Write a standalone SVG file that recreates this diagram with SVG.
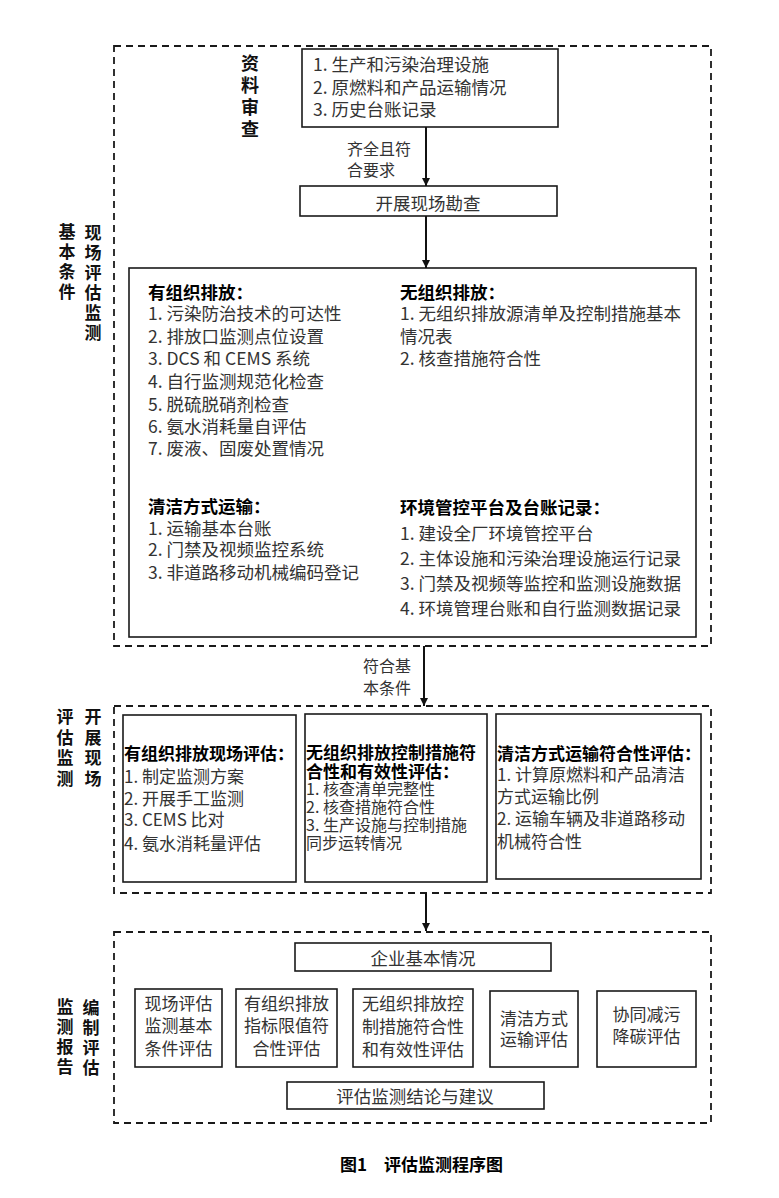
<svg xmlns="http://www.w3.org/2000/svg" width="779" height="1198" viewBox="0 0 779 1198">
<style>
.dash{fill:none;stroke:#1a1a1a;stroke-width:1.8;stroke-dasharray:7 5}
.box{fill:#fff;stroke:#1a1a1a;stroke-width:1.6}
.t{font-family:"Noto Sans CJK SC","Liberation Sans",sans-serif;font-size:17px;fill:#333;dominant-baseline:central}
.big{font-size:17.5px}
.h{font-weight:bold;fill:#000}
.lab{font-size:17px;fill:#111;font-weight:bold;writing-mode:vertical-rl;letter-spacing:3px}
.c{text-anchor:middle}
.sm{font-size:16px}
.conn{stroke:#111;stroke-width:2;fill:none}
</style>
<defs>
<marker id="arr" markerUnits="userSpaceOnUse" markerWidth="8" markerHeight="8" refX="8" refY="4" orient="auto">
<path d="M0,0 L8,4 L0,8 z" fill="#111"/>
</marker>
</defs>
<rect width="779" height="1198" fill="#fff"/>

<g id="section1">
<rect class="dash" x="114" y="46" width="597" height="600"/>
<text class="t lab" x="67" y="223.5">基本条件</text>
<text class="t lab" x="93" y="224.5">现场评估监测</text>
</g>

<g id="material-review">
<text class="t lab" x="250" y="54" style="font-size:18px;letter-spacing:4px">资料审查</text>
<rect class="box" x="302" y="49" width="256" height="78"/>
<text class="t big" x="313" y="63">1. 生产和污染治理设施<tspan x="313" y="86">2. 原燃料和产品运输情况</tspan><tspan x="313" y="108">3. 历史台账记录</tspan></text>
</g>

<g id="site-survey">
<rect class="box" x="300" y="186" width="257" height="30"/>
<text class="t big c" x="428" y="202">开展现场勘查</text>
</g>

<g id="basic-conditions">
<rect class="box" x="129" y="268" width="567" height="369"/>
<text class="t big" x="148" y="291"><tspan class="h">有组织排放：</tspan><tspan x="148" y="312">1. 污染防治技术的可达性</tspan><tspan x="148" y="335">2. 排放口监测点位设置</tspan><tspan x="148" y="357">3. DCS 和 CEMS 系统</tspan><tspan x="148" y="380">4. 自行监测规范化检查</tspan><tspan x="148" y="403">5. 脱硫脱硝剂检查</tspan><tspan x="148" y="425">6. 氨水消耗量自评估</tspan><tspan x="148" y="447">7. 废液、固废处置情况</tspan></text>
<text class="t big" x="400" y="291"><tspan class="h">无组织排放：</tspan><tspan x="400" y="312">1. 无组织排放源清单及控制措施基本</tspan><tspan x="400" y="335">情况表</tspan><tspan x="400" y="357">2. 核查措施符合性</tspan></text>
<text class="t big" x="148" y="505"><tspan class="h">清洁方式运输：</tspan><tspan x="148" y="527">1. 运输基本台账</tspan><tspan x="148" y="548">2. 门禁及视频监控系统</tspan><tspan x="148" y="571">3. 非道路移动机械编码登记</tspan></text>
<text class="t big" x="400" y="506"><tspan class="h">环境管控平台及台账记录：</tspan><tspan x="400" y="532">1. 建设全厂环境管控平台</tspan><tspan x="400" y="557">2. 主体设施和污染治理设施运行记录</tspan><tspan x="400" y="582">3. 门禁及视频等监控和监测设施数据</tspan><tspan x="400" y="607">4. 环境管理台账和自行监测数据记录</tspan></text>
</g>

<g id="section2">
<rect class="dash" x="114" y="706" width="597" height="187"/>
<text class="t lab" x="65" y="708.5" style="letter-spacing:3.5px">评估监测</text>
<text class="t lab" x="93" y="708.5" style="letter-spacing:3.5px">开展现场</text>
</g>

<g id="organized-assessment">
<rect class="box" x="123" y="715" width="173" height="167"/>
<text class="t" x="124" y="752"><tspan class="h">有组织排放现场评估：</tspan><tspan x="124" y="775">1. 制定监测方案</tspan><tspan x="124" y="797">2. 开展手工监测</tspan><tspan x="124" y="818">3. CEMS 比对</tspan><tspan x="124" y="842">4. 氨水消耗量评估</tspan></text>
</g>

<g id="unorganized-assessment">
<rect class="box" x="305" y="714" width="182" height="168"/>
<text class="t" x="306" y="751"><tspan class="h">无组织排放控制措施符</tspan><tspan class="h" x="306" y="770">合性和有效性评估：</tspan><tspan class="sm" x="306" y="788">1. 核查清单完整性</tspan><tspan class="sm" x="306" y="806">2. 核查措施符合性</tspan><tspan class="sm" x="306" y="824">3. 生产设施与控制措施</tspan><tspan class="sm" x="306" y="842">同步运转情况</tspan></text>
</g>

<g id="transport-assessment">
<rect class="box" x="496" y="714" width="205" height="165"/>
<text class="t" x="497" y="752"><tspan class="h">清洁方式运输符合性评估：</tspan><tspan x="497" y="773">1. 计算原燃料和产品清洁</tspan><tspan x="497" y="795">方式运输比例</tspan><tspan x="497" y="817">2. 运输车辆及非道路移动</tspan><tspan x="497" y="840">机械符合性</tspan></text>
</g>

<g id="section3">
<rect class="dash" x="114" y="932" width="597" height="191"/>
<text class="t lab" x="65" y="998.5">监测报告</text>
<text class="t lab" x="91" y="999">编制评估</text>
</g>

<g id="enterprise-info">
<rect class="box" x="295" y="943" width="256" height="28"/>
<text class="t big c" x="423" y="957">企业基本情况</text>
</g>

<g id="report-1">
<rect class="box" x="135" y="989" width="87" height="78"/>
<text class="t c" x="178.5" y="1002">现场评估<tspan x="178.5" y="1024">监测基本</tspan><tspan x="178.5" y="1047">条件评估</tspan></text>
</g>
<g id="report-2">
<rect class="box" x="236" y="989" width="101" height="78"/>
<text class="t c" x="286.5" y="1002">有组织排放<tspan x="286.5" y="1024">指标限值符</tspan><tspan x="286.5" y="1047">合性评估</tspan></text>
</g>
<g id="report-3">
<rect class="box" x="353" y="989" width="120" height="78"/>
<text class="t c" x="413" y="1002">无组织排放控<tspan x="413" y="1025">制措施符合性</tspan><tspan x="413" y="1048">和有效性评估</tspan></text>
</g>
<g id="report-4">
<rect class="box" x="490" y="991" width="88" height="76"/>
<text class="t c" x="534" y="1017">清洁方式<tspan x="534" y="1038">运输评估</tspan></text>
</g>
<g id="report-5">
<rect class="box" x="597" y="991" width="99" height="76"/>
<text class="t c" x="646.5" y="1013">协同减污<tspan x="646.5" y="1035">降碳评估</tspan></text>
</g>

<g id="conclusion">
<rect class="box" x="287" y="1082" width="257" height="27"/>
<text class="t big c" x="415" y="1095">评估监测结论与建议</text>
</g>

<g id="connectors">
<line class="conn" x1="426" y1="127" x2="426" y2="186" marker-end="url(#arr)"/>
<line class="conn" x1="426" y1="216" x2="426" y2="268" marker-end="url(#arr)"/>
<line class="conn" x1="424" y1="646" x2="424" y2="706" marker-end="url(#arr)"/>
<line class="conn" x1="426" y1="893" x2="426" y2="931" marker-end="url(#arr)"/>
<text class="t" style="font-size:16px" x="347" y="148">齐全且符<tspan x="347" y="169">合要求</tspan></text>
<text class="t" style="font-size:16px" x="363" y="665">符合基<tspan x="363" y="687">本条件</tspan></text>
</g>

<g id="caption" class="t h">
<text x="340" y="1163">图1</text>
<text x="384" y="1163">评估监测程序图</text>
</g>
</svg>
